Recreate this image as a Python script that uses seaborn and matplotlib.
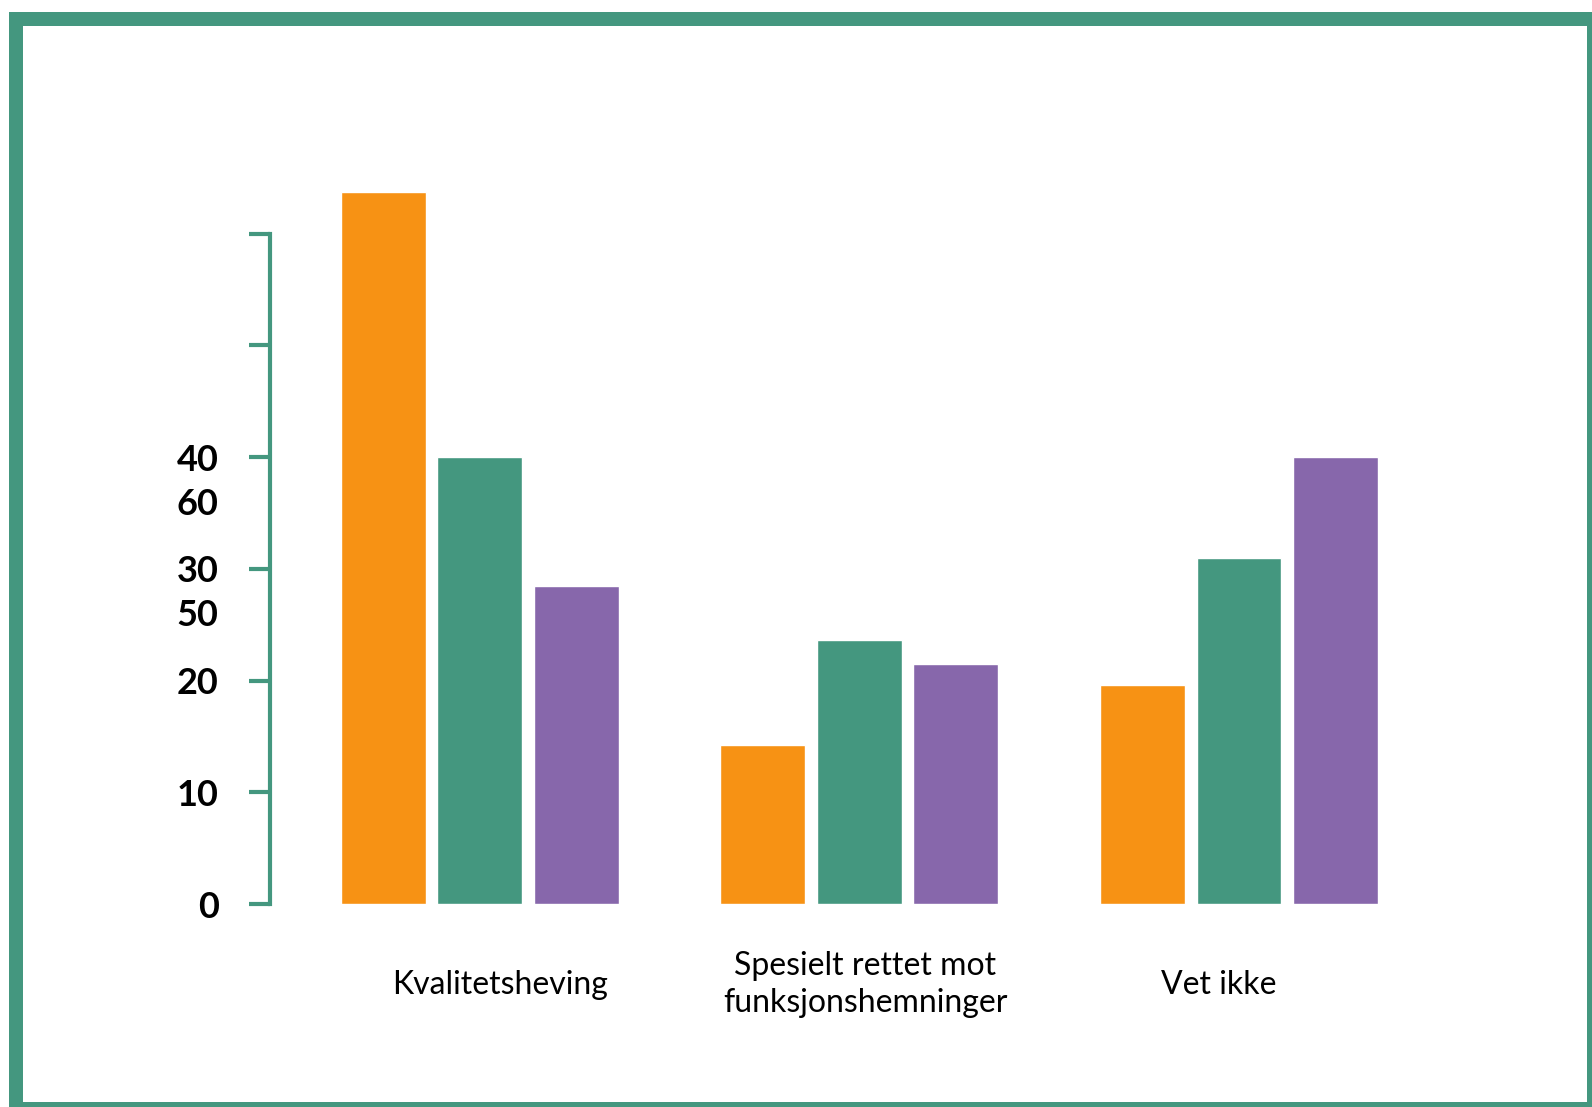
import pandas as pd
import matplotlib.pyplot as plt
from matplotlib.patches import Rectangle
import seaborn as sns

# data
kategorier = ['Kvalitetsheving', 'Spesielt rettet mot\nfunksjonshemninger', 'Vet ikke']
serier = ['Serie 1', 'Serie 2', 'Serie 3']
serie1 = [63.7, 14.2, 19.6]
serie2 = [40.0, 23.6, 31.0]
serie3 = [28.5, 21.5, 40.0]
farger = ['#F79214', '#44977F', '#8767AB']

# tick labels, incl. the two odd ones that sit between the ticks
y_ticks = [0, 10, 20, 30, 40, 50, 60]
y_labels = ['0', '10', '20', '30', '40', '', '']
ekstra_pos = [26.1, 36.0]
ekstra_labels = ['50', '60']

df = pd.DataFrame({
    'kategori': kategorier * 3,
    'serie': [s for s in serier for _ in kategorier],
    'verdi': serie1 + serie2 + serie3,
})

sns.set_style('white')
plt.rcParams['font.family'] = ['Lato', 'DejaVu Sans']

W, H = 1592, 1107
fig = plt.figure(figsize=(W / 100, H / 100), dpi=100)
ax = fig.add_axes([270 / W, 1 - 904 / H, 1210 / W, (904 - 122) / H])

sns.barplot(data=df, x='kategori', y='verdi', hue='serie', palette=farger,
            width=0.763, gap=0.12, saturation=1, legend=False, ax=ax)

gronn = '#44977F'
ax.set_xlim(-0.553, 2.635)
ax.set_ylim(0, 70)
ax.set_xlabel('')
ax.set_ylabel('')

for s in ['top', 'right', 'bottom']:
    ax.spines[s].set_visible(False)
ax.spines['left'].set_color(gronn)
ax.spines['left'].set_linewidth(3)
ax.spines['left'].set_bounds(0, 60)

ax.set_yticks(y_ticks)
ax.set_yticklabels(y_labels, fontsize=26, fontweight='bold', color='black')
ax.set_yticks(ekstra_pos, minor=True)
ax.set_yticklabels(ekstra_labels, minor=True, fontsize=26, fontweight='bold', color='black')
ax.tick_params(axis='y', which='major', left=True, length=15, width=3, color=gronn, pad=22)
ax.tick_params(axis='y', which='minor', left=True, length=0, pad=37)

ax.set_xticks([0.053, 1.016, 1.947])
ax.set_xticklabels(kategorier, fontsize=23, color='black')
ax.tick_params(axis='x', length=0, pad=58)
for lbl in ax.get_xticklabels():
    lbl.set_va('center')
    lbl.set_linespacing(1.3)

# green frame round the picture (cut at right and bottom)
ramme = [(9, 12, 14, H - 12),      # left
         (9, 12, W - 9, 14),       # top
         (1587, 12, W - 1587, H - 12),  # right
         (9, 1102, W - 9, H - 1102)]    # bottom
for x0, y0, bw, bh in ramme:
    fig.add_artist(Rectangle((x0 / W, 1 - (y0 + bh) / H), bw / W, bh / H,
                             transform=fig.transFigure, facecolor=gronn,
                             edgecolor='none'))

fig.savefig('out.png', dpi=100)
